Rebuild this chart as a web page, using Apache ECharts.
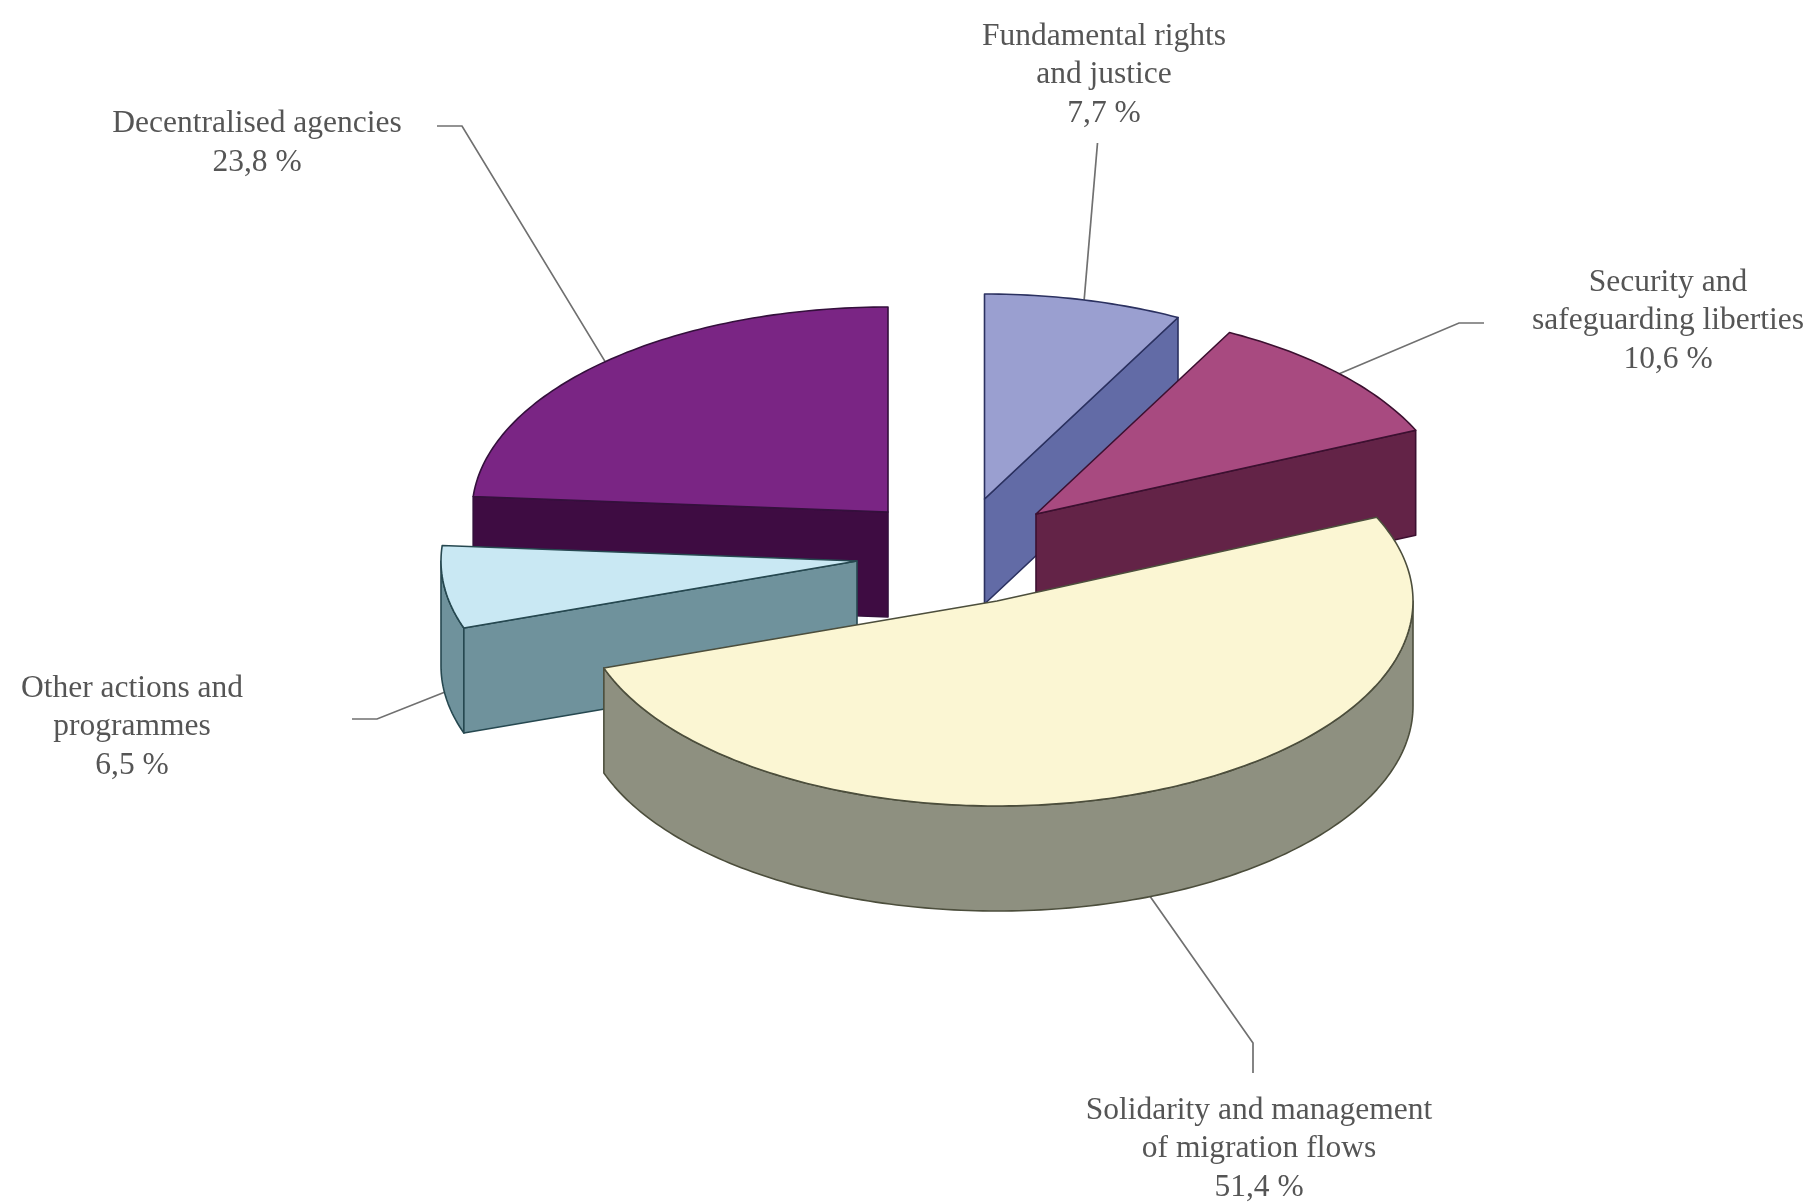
<!DOCTYPE html>
<html>
<head>
<meta charset="utf-8">
<style>html,body{margin:0;padding:0;background:#fff}#chart{width:1813px;height:1203px}</style>
<script src="https://cdn.jsdelivr.net/npm/echarts@6/dist/echarts.min.js"></script>
</head>
<body>
<div id="chart"></div>
<script>
// Data, clockwise from the top of the pie
const categories = [
  'Fundamental rights\nand justice',
  'Security and\nsafeguarding liberties',
  'Solidarity and management\nof migration flows',
  'Other actions and\nprogrammes',
  'Decentralised agencies'
];
const values = [7.7, 10.6, 51.4, 6.5, 23.8];

// Styling and layout
const topColors  = ['#9a9fd0', '#a84a80', '#fbf6d3', '#c9e8f3', '#7a2584'];
const sideColors = ['#626ba6', '#632347', '#8e9080', '#6f929c', '#3e0c42'];
const edgeColors = ['#2b3160', '#3c1030', '#4c4e3c', '#264850', '#34103c'];
const explode = [[44.5, -31], [96, -16], [57, 71], [-83, 31], [-52, -18]];
const leaderElbow = [[1097.5, 143], [1459, 323], [1253, 1043], [377, 719], [462, 126]];
const leaderEnd   = [[1097.5, 143], [1484, 323], [1253, 1073], [352, 719], [437, 126]];
const labelPos = [[1104, 75], [1668, 321], [1259, 1149], [132, 727], [257, 143]];
const paintOrder = [4, 0, 1, 3, 2];
const centre = [940, 530], rx = 416, ry = 205, depth = 105;

const total = values.reduce((a, b) => a + b, 0);
const startAngles = [];
values.reduce((acc, v, i) => { startAngles[i] = acc; return acc + v / total * 360; }, 0);

function rimPoint(apex, deg, dy) {
  const r = deg * Math.PI / 180;
  return [apex[0] + rx * Math.sin(r), apex[1] - ry * Math.cos(r) + (dy || 0)];
}
function arc(apex, a0, a1, dy) {
  const pts = [], n = Math.max(2, Math.ceil(Math.abs(a1 - a0)));
  for (let k = 0; k <= n; k++) pts.push(rimPoint(apex, a0 + (a1 - a0) * k / n, dy));
  return pts;
}
function renderSlice(params, api) {
  const i = api.value(0), v = api.value(1);
  const a0 = startAngles[i], a1 = a0 + v / total * 360, mid = (a0 + a1) / 2;
  const apex = [centre[0] + explode[i][0], centre[1] + explode[i][1]];
  const low = [apex[0], apex[1] + depth];
  const children = [];
  const poly = (points, fill) => children.push({
    type: 'polygon', shape: { points },
    style: { fill, stroke: edgeColors[i], lineWidth: 1.6, lineJoin: 'round' }
  });

  // leader line, from the slice's mid-angle on its rim
  const front = mid > 90 && mid < 270;
  children.push({
    type: 'polyline',
    shape: { points: [rimPoint(apex, mid, front ? depth : 0), leaderElbow[i], leaderEnd[i]] },
    style: { fill: null, stroke: '#707070', lineWidth: 1.7 }
  });

  // curved wall, front half of the ellipse only
  const r0 = Math.max(a0, 90), r1 = Math.min(a1, 270);
  if (r1 > r0) poly(arc(apex, r0, r1).concat(arc(apex, r1, r0, depth)), sideColors[i]);
  // radial walls that face the viewer
  const wall = deg => [apex, rimPoint(apex, deg), rimPoint(apex, deg, depth), low];
  if (a0 > 180 && a0 < 360) poly(wall(a0), sideColors[i]);
  if (a1 > 0 && a1 < 180) poly(wall(a1), sideColors[i]);
  // top face
  poly([apex].concat(arc(apex, a0, a1)), topColors[i]);

  // label
  children.push({
    type: 'text',
    style: {
      x: labelPos[i][0], y: labelPos[i][1],
      text: categories[i] + '\n' + v.toFixed(1).replace('.', ',') + ' %',
      align: 'center', verticalAlign: 'middle',
      textAlign: 'center', textVerticalAlign: 'middle',
      font: '31.5px "Liberation Serif"', lineHeight: 38.5, fill: '#555555'
    }
  });
  return { type: 'group', children };
}

const chart = echarts.init(document.getElementById('chart'));
chart.setOption({
  animation: false,
  backgroundColor: '#ffffff',
  series: [{
    type: 'custom',
    coordinateSystem: 'none',
    renderItem: renderSlice,
    data: paintOrder.map(i => [i, values[i]])
  }]
});
</script>
</body>
</html>
